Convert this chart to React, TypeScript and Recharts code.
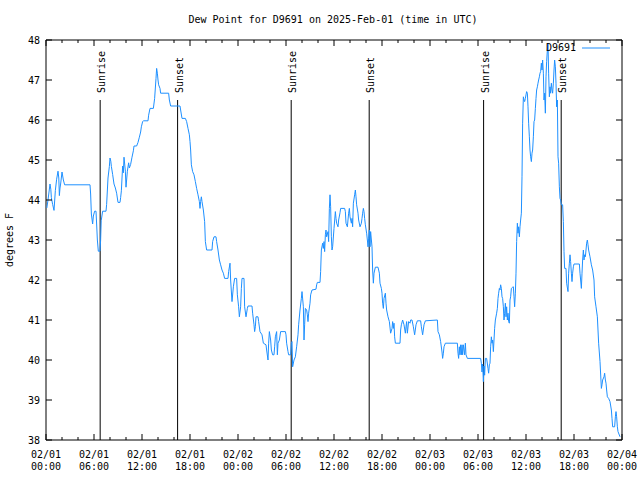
import { LineChart, Line, XAxis, YAxis, ReferenceLine, ReferenceArea, Legend } from 'recharts';

// hours since 02/01 00:00 UTC
const hours = [
  0.1, 0.25, 0.5, 0.6, 0.67, 0.83, 1.0, 1.17, 1.33, 1.5, 1.6, 1.67, 1.75, 1.83, 2.0, 2.17, 2.33, 5.5, 5.58, 5.67,
  5.83, 5.92, 6.08, 6.25, 6.33, 6.42, 6.54, 6.75, 6.83, 6.9, 7.08, 7.5, 7.58, 7.75, 7.92, 8.0, 8.1, 8.17, 8.33, 8.5,
  8.67, 8.83, 9.0, 9.25, 9.33, 9.42, 9.58, 9.67, 9.75, 9.92, 10.0, 10.17, 10.33, 10.42, 10.58, 10.75, 10.92, 11.0, 11.33, 11.5,
  11.67, 11.83, 11.92, 12.08, 12.17, 12.75, 12.83, 13.0, 13.42, 13.58, 13.75, 13.83, 13.92, 14.0, 14.08, 14.25, 14.33, 15.33, 15.42, 15.58,
  16.75, 16.83, 17.0, 17.42, 17.58, 17.75, 17.92, 18.0, 18.08, 18.17, 18.33, 18.5, 18.67, 18.83, 19.0, 19.17, 19.25, 19.33, 19.42, 19.5,
  19.67, 19.83, 19.92, 20.08, 20.75, 20.83, 21.0, 21.25, 21.33, 21.5, 21.67, 21.83, 22.0, 22.17, 22.33, 22.75, 22.83, 23.0, 23.08, 23.25,
  23.42, 23.58, 23.83, 23.92, 24.08, 24.17, 24.33, 24.42, 24.5, 24.75, 24.83, 25.0, 25.17, 25.25, 25.75, 25.83, 26.0, 26.08, 26.17, 26.25,
  26.5, 26.58, 26.75, 27.0, 27.17, 27.5, 27.58, 27.75, 27.83, 27.92, 28.08, 28.17, 28.33, 28.5, 28.58, 28.67, 28.83, 28.92, 29.0, 29.17,
  29.33, 29.92, 30.0, 30.08, 30.25, 30.33, 30.58, 30.67, 30.75, 30.83, 31.0, 31.17, 31.33, 31.5, 31.58, 31.75, 31.92, 32.0, 32.17, 32.25,
  32.33, 32.42, 32.58, 32.67, 32.75, 32.83, 33.0, 33.08, 33.25, 33.75, 33.83, 33.92, 34.25, 34.33, 34.42, 34.58, 34.67, 34.75, 34.83, 34.92,
  35.0, 35.08, 35.25, 35.33, 35.42, 35.5, 35.58, 35.67, 35.75, 35.83, 36.0, 36.17, 36.25, 36.33, 36.5, 36.58, 36.75, 36.83, 37.33, 37.42,
  37.5, 37.67, 37.83, 37.92, 38.0, 38.17, 38.25, 38.33, 38.42, 38.58, 38.67, 38.75, 38.83, 39.0, 39.08, 39.25, 39.42, 39.5, 39.58, 39.67,
  39.75, 39.83, 39.92, 40.08, 40.17, 40.25, 40.33, 40.42, 40.5, 40.58, 40.75, 40.83, 40.92, 41.0, 41.17, 41.5, 41.67, 41.75, 41.92, 42.0,
  42.08, 42.17, 42.25, 42.42, 42.5, 42.58, 42.75, 42.92, 43.08, 43.25, 43.33, 43.42, 43.5, 43.58, 43.67, 44.25, 44.33, 44.42, 44.58, 44.75,
  44.92, 45.0, 45.08, 45.17, 45.33, 45.5, 45.58, 45.75, 45.92, 46.08, 46.25, 46.42, 46.83, 46.92, 47.08, 47.25, 47.42, 48.92, 49.0, 49.17,
  49.33, 49.5, 49.58, 49.67, 49.75, 49.92, 51.42, 51.5, 51.58, 51.67, 51.75, 51.83, 51.92, 52.0, 52.08, 52.17, 52.33, 52.42, 52.5, 52.67,
  54.33, 54.42, 54.5, 54.58, 54.67, 54.75, 54.83, 54.92, 55.08, 55.25, 55.33, 55.42, 55.5, 55.58, 55.67, 55.75, 55.83, 55.92, 56.0, 56.08,
  56.17, 56.33, 56.42, 56.5, 56.58, 56.67, 56.75, 56.83, 56.92, 57.0, 57.08, 57.17, 57.25, 57.33, 57.42, 57.5, 57.58, 57.67, 57.75, 57.83,
  57.92, 58.0, 58.08, 58.17, 58.33, 58.42, 58.5, 58.58, 58.67, 58.75, 58.83, 58.92, 59.0, 59.08, 59.17, 59.25, 59.33, 59.42, 59.5, 59.58,
  59.67, 59.75, 59.83, 59.92, 60.0, 60.08, 60.17, 60.25, 60.33, 60.42, 60.5, 60.58, 60.67, 60.75, 60.83, 60.92, 61.0, 61.08, 61.17, 61.25,
  61.33, 61.42, 61.5, 61.58, 61.67, 61.75, 61.83, 61.92, 62.0, 62.08, 62.17, 62.25, 62.33, 62.42, 62.5, 62.58, 62.67, 62.75, 62.83, 62.92,
  63.0, 63.08, 63.17, 63.25, 63.33, 63.42, 63.5, 63.58, 63.67, 63.75, 63.83, 63.92, 64.0, 64.08, 64.17, 64.25, 64.33, 64.42, 64.58, 64.67,
  64.75, 64.83, 65.0, 65.08, 65.25, 65.33, 65.42, 65.5, 65.58, 65.67, 65.75, 65.83, 65.92, 66.0, 66.67, 66.75, 66.83, 66.92, 67.0, 67.08,
  67.17, 67.25, 67.33, 67.42, 67.5, 67.58, 67.67, 67.75, 67.83, 68.0, 68.17, 68.33, 68.5, 68.58, 68.75, 68.92, 69.08, 69.25, 69.42, 69.5,
  69.58, 69.75, 69.83, 69.92, 70.0, 70.08, 70.17, 70.33, 70.5, 70.67, 70.75, 70.83, 71.08, 71.17, 71.25, 71.33, 71.42, 71.5, 71.75,
];

const dewPoint = [
  43.8, 44.0, 44.4, 44.27, 44.06, 43.89, 43.74, 44.24, 44.52, 44.72, 44.55, 44.11, 44.3, 44.4, 44.7, 44.5, 44.38, 44.38, 44.15, 43.65,
  43.4, 43.6, 43.72, 43.72, 43.4, 43.0, 42.72, 42.72, 43.0, 43.48, 43.72, 43.72, 43.89, 44.55, 44.84, 45.05, 44.97, 44.84, 44.64, 44.4,
  44.3, 44.17, 43.94, 43.94, 44.06, 44.23, 44.85, 44.68, 45.07, 44.72, 44.32, 44.72, 44.93, 44.8, 44.89, 45.07, 45.23, 45.35, 45.35, 45.44,
  45.57, 45.7, 45.83, 45.96, 45.98, 45.98, 46.12, 46.29, 46.29, 46.54, 47.04, 47.29, 47.17, 47.0, 46.88, 46.79, 46.67, 46.67, 46.5, 46.35,
  46.35, 46.25, 46.04, 46.04, 45.96, 45.79, 45.63, 45.46, 45.25, 44.88, 44.71, 44.63, 44.46, 44.29, 44.13, 43.96, 43.79, 43.96, 44.08, 43.96,
  43.75, 43.46, 42.96, 42.75, 42.75, 42.96, 43.08, 43.08, 42.96, 42.75, 42.5, 42.38, 42.25, 42.17, 42.04, 42.04, 42.21, 42.42, 42.0, 41.46,
  41.83, 42.04, 42.04, 41.63, 41.33, 41.08, 41.33, 41.79, 42.04, 42.04, 41.33, 41.08, 41.29, 41.35, 41.35, 41.17, 40.88, 40.71, 40.83, 41.08,
  41.08, 40.96, 40.71, 40.63, 40.42, 40.38, 40.25, 40.0, 40.42, 40.71, 40.5, 40.25, 40.13, 40.13, 40.33, 40.58, 40.71, 40.13, 40.42, 40.5,
  40.71, 40.71, 40.63, 40.42, 40.21, 40.13, 40.13, 40.42, 40.46, 39.83, 40.0, 40.08, 40.33, 40.63, 40.88, 41.25, 41.54, 41.71, 41.33, 40.5,
  40.88, 41.29, 41.25, 41.13, 40.96, 41.17, 41.42, 41.63, 41.75, 41.77, 41.88, 41.94, 41.94, 42.21, 42.75, 42.92, 42.79, 42.96, 42.71, 43.13,
  43.25, 43.08, 43.21, 42.96, 43.79, 44.13, 43.83, 43.08, 42.75, 42.83, 43.29, 43.71, 43.54, 43.42, 43.33, 43.5, 43.68, 43.79, 43.79, 43.71,
  43.42, 43.33, 43.67, 43.79, 43.58, 43.42, 43.54, 43.33, 43.92, 44.13, 44.25, 44.08, 43.88, 43.67, 43.5, 43.33, 43.42, 43.54, 43.67, 43.79,
  43.71, 43.54, 43.38, 43.17, 43.0, 42.83, 43.04, 43.25, 42.83, 43.21, 42.83, 42.25, 41.92, 42.17, 42.32, 42.32, 42.17, 41.92, 41.79, 41.67,
  41.42, 41.29, 41.54, 41.67, 41.42, 41.25, 41.08, 40.96, 40.67, 40.79, 40.96, 40.79, 40.92, 40.58, 40.42, 40.42, 40.75, 40.88, 41.0, 40.88,
  40.67, 40.83, 40.96, 40.67, 40.96, 40.92, 41.0, 41.0, 40.83, 40.63, 40.88, 40.98, 40.98, 40.83, 40.63, 40.88, 40.98, 41.0, 40.71, 40.63,
  40.46, 40.2, 40.04, 40.17, 40.33, 40.42, 40.42, 40.17, 40.04, 40.33, 40.13, 40.38, 40.13, 40.38, 40.13, 40.38, 40.13, 40.42, 40.13, 40.04,
  40.04, 39.92, 39.7, 39.9, 39.46, 39.85, 39.62, 40.04, 40.04, 39.79, 39.67, 39.88, 39.92, 40.33, 40.58, 40.42, 40.5, 40.21, 40.5, 40.79,
  41.0, 41.17, 41.29, 41.54, 41.67, 41.79, 41.75, 41.88, 41.79, 41.58, 41.54, 41.33, 41.0, 41.17, 41.42, 41.08, 41.33, 41.0, 41.17, 40.96,
  40.92, 41.5, 41.58, 41.79, 41.82, 41.83, 41.58, 41.33, 41.67, 42.17, 42.96, 43.42, 43.17, 43.33, 43.08, 43.33, 43.5, 43.67, 44.58, 45.92,
  46.58, 46.5, 46.46, 46.54, 46.63, 46.71, 46.67, 46.33, 45.92, 45.58, 45.25, 45.08, 44.96, 45.17, 45.25, 45.58, 45.96, 46.0, 46.29, 46.54,
  46.75, 46.83, 46.92, 47.0, 47.08, 47.17, 47.21, 47.42, 47.25, 47.5, 47.17, 46.5, 46.67, 46.17, 47.08, 47.46, 47.75, 47.92, 47.17, 46.58,
  46.83, 46.67, 46.92, 46.75, 46.67, 46.92, 47.25, 47.5, 47.33, 46.92, 46.33, 46.5, 45.08, 44.92, 44.33, 44.04, 44.0, 43.88, 43.88, 43.46,
  42.71, 42.29, 42.29, 41.92, 41.71, 42.17, 42.42, 42.63, 42.46, 42.17, 41.96, 42.17, 42.33, 42.4, 42.4, 42.17, 42.0, 41.79, 42.17, 42.5,
  42.75, 42.5, 42.63, 42.58, 42.75, 42.92, 43.0, 42.88, 42.75, 42.58, 42.38, 42.25, 42.0, 41.58, 41.33, 41.08, 40.42, 39.96, 39.29, 39.38,
  39.5, 39.58, 39.67, 39.5, 39.42, 39.25, 39.08, 39.04, 38.96, 38.75, 38.54, 38.33, 38.33, 38.58, 38.71, 38.58, 38.33, 38.21, 38.08,
];

const xTicks = [0, 2, 4, 6, 8, 10, 12, 14, 16, 18, 20, 22, 24, 26, 28, 30, 32, 34, 36, 38, 40, 42, 44, 46, 48, 50, 52, 54, 56, 58, 60, 62, 64, 66, 68, 70, 72];
const yTicks = [38, 39, 40, 41, 42, 43, 44, 45, 46, 47, 48];

const sunHours = [6.77, 16.45, 30.65, 40.4, 54.7, 64.4];
const sunLabels = ['Sunrise', 'Sunset', 'Sunrise', 'Sunset', 'Sunrise', 'Sunset'];

const data = hours.map((h, i) => ({ h, dp: dewPoint[i] }));

const FONT = '"DejaVu Sans Mono", monospace';
const TOP = 40;
const BOTTOM = 440;
const LEFT = 46;
const RIGHT = 622;
const BLUE = '#1e90ff';

function XTick({ x, payload }: any) {
  const h = payload.value;
  const major = h % 6 === 0;
  const len = major ? 6 : 3;
  const day = 1 + Math.floor(h / 24);
  const hh = String(h % 24).padStart(2, '0');
  return (
    <g>
      <line x1={x} y1={BOTTOM} x2={x} y2={BOTTOM - len} stroke="#000" />
      <line x1={x} y1={TOP} x2={x} y2={TOP + len} stroke="#000" />
      {major && (
        <text fontFamily={FONT} fontSize={10} textAnchor="middle" fill="#000">
          <tspan x={x} y={458}>{`02/0${day}`}</tspan>
          <tspan x={x} y={470}>{`${hh}:00`}</tspan>
        </text>
      )}
    </g>
  );
}

function YTick({ y, payload }: any) {
  return (
    <g>
      <line x1={LEFT} y1={y} x2={LEFT + 6} y2={y} stroke="#000" />
      <line x1={RIGHT} y1={y} x2={RIGHT - 6} y2={y} stroke="#000" />
      <text x={40} y={y + 3.5} fontFamily={FONT} fontSize={10} textAnchor="end" fill="#000">
        {payload.value}
      </text>
    </g>
  );
}

const sunLabel = (text: string) => (props: any) => {
  const vb = props.viewBox || {};
  const x = vb.x + 5;
  const y = vb.y - 7;
  return (
    <text x={x} y={y} transform={`rotate(-90 ${x} ${y})`} fontFamily={FONT} fontSize={10} fill="#000">
      {text}
    </text>
  );
};

function LegendBox() {
  return (
    <div style={{ display: 'flex', alignItems: 'center', justifyContent: 'flex-end', fontFamily: FONT, fontSize: 10, lineHeight: '12px' }}>
      <span>D9691</span>
      <svg width={28} height={12} style={{ marginLeft: 6 }}>
        <line x1={0} y1={6} x2={28} y2={6} stroke={BLUE} />
      </svg>
    </div>
  );
}

export default function App() {
  return (
    <div style={{ position: 'absolute', left: 0, top: 0, width: 640, height: 480, background: '#fff' }}>
      <div style={{ position: 'absolute', top: 13, left: 0, width: 666, textAlign: 'center', fontFamily: FONT, fontSize: 10, lineHeight: '14px' }}>
        Dew Point for D9691 on 2025-Feb-01 (time in UTC)
      </div>
      <div
        style={{
          position: 'absolute', left: 10, top: 240, transform: 'translate(-50%, -50%) rotate(-90deg)',
          whiteSpace: 'nowrap', fontFamily: FONT, fontSize: 10, lineHeight: '12px',
        }}
      >
        degrees F
      </div>
      <LineChart width={640} height={480} data={data} margin={{ top: TOP, right: 640 - RIGHT, bottom: 0, left: 0 }}>
        <XAxis
          dataKey="h"
          type="number"
          domain={[0, 72]}
          ticks={xTicks}
          interval={0}
          height={40}
          tickSize={0}
          tickMargin={0}
          tickLine={false}
          axisLine={false}
          tick={<XTick />}
        />
        <YAxis
          type="number"
          domain={[38, 48]}
          ticks={yTicks}
          interval={0}
          width={LEFT}
          tickSize={0}
          tickMargin={0}
          tickLine={false}
          axisLine={false}
          tick={<YTick />}
        />
        <ReferenceArea x1={0} x2={72} y1={38} y2={48} fill="none" stroke="#000" strokeWidth={1} fillOpacity={0} />
        {sunHours.map((h, i) => (
          <ReferenceLine
            key={i}
            segment={[{ x: h, y: 46.5 }, { x: h, y: 38 }]}
            stroke="#000"
            strokeWidth={1}
            label={sunLabel(sunLabels[i])}
          />
        ))}
        <Line type="linear" dataKey="dp" stroke={BLUE} strokeWidth={1} dot={false} isAnimationActive={false} />
        <Legend
          layout="horizontal"
          verticalAlign="middle"
          align="center"
          wrapperStyle={{ position: 'absolute', top: 42, left: 500, width: 110 }}
          content={() => <LegendBox />}
        />
      </LineChart>
    </div>
  );
}
